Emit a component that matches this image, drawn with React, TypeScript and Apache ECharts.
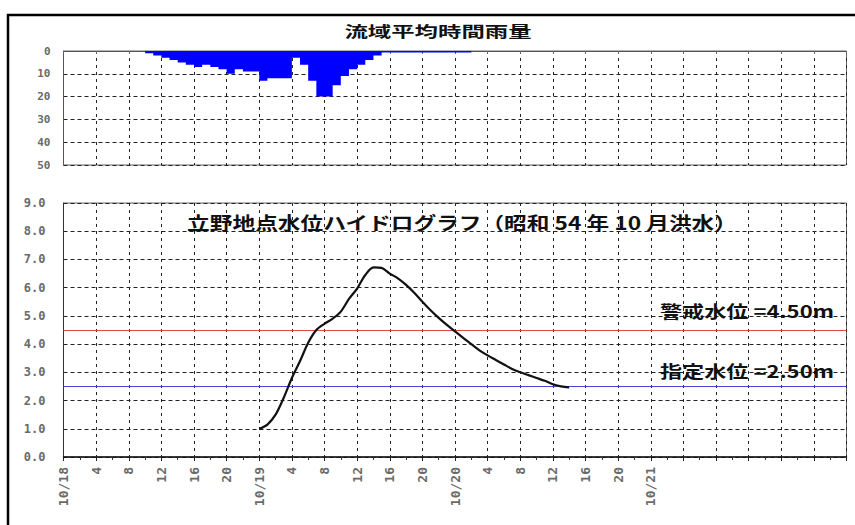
import React, { useEffect, useRef } from "react";
import * as echarts from "echarts";

// Hours measured from 10/18 0:00
const axisMaxHour = 96;
const tickStepHours = 4;
const lastLabelHour = 72;
const dateLabels = ["10/18", "10/19", "10/20", "10/21"];

// Basin average hourly rainfall (mm), starting at hour 10
const rainStartHour = 10;
const rainValues = [
  1, 2, 3, 4, 5, 6, 7, 6, 7, 8, 10, 8, 9, 9, 13, 12, 12, 12, 3, 6, 13, 20, 20, 15,
  11, 8, 6, 4, 2, 0.7, 0.7, 0.7, 0.7, 0.7, 0.7, 0.7, 0.7, 0.7, 0.7, 0.7,
];

// Water level at Tateno (m), hourly starting at hour 24 (10/19 0:00)
const levelStartHour = 24;
const levelValues = [
  1.0, 1.15, 1.5, 2.1, 2.8, 3.4, 4.05, 4.5, 4.72, 4.9, 5.15, 5.6, 5.97, 6.45, 6.72,
  6.7, 6.5, 6.33, 6.1, 5.82, 5.5, 5.2, 4.93, 4.68, 4.45, 4.22, 4.0, 3.78, 3.6, 3.44,
  3.28, 3.12, 3.0, 2.9, 2.8, 2.7, 2.58, 2.5, 2.47,
];

const warningLevel = 4.5;
const designatedLevel = 2.5;

const topTitle = "流域平均時間雨量";
const bottomTitle = "立野地点水位ハイドログラフ（昭和 54 年 10 月洪水）";
const warningLabel = "警戒水位 =4.50m";
const designatedLabel = "指定水位 =2.50m";

export default function App() {
  const ref = useRef<HTMLDivElement>(null);

  useEffect(() => {
    if (!ref.current) return;
    const chart = echarts.init(ref.current, null, { renderer: "svg" });

    const rainData: number[][] = rainValues.map((v, i) => [rainStartHour + i, v]);
    rainData.push([rainStartHour + rainValues.length, 0]);
    const levelData = levelValues.map((v, i) => [levelStartHour + i, v]);

    const gridColor = "#222";
    const labelFont = {
      fontFamily: "DejaVu Sans Mono",
      fontWeight: "bold" as const,
      color: "#6a6a6a",
    };

    const xFormatter = (val: number) => {
      if (val > lastLabelHour) return "";
      const h = val % 24;
      if (h === 0) return dateLabels[val / 24] ?? "";
      return String(h);
    };

    chart.setOption({
      animation: false,
      backgroundColor: "#fff",
      grid: [
        { left: 63.5, top: 51, width: 783, height: 114, show: true, borderColor: "#666", borderWidth: 1 },
        { left: 63.5, top: 203, width: 783, height: 254, show: true, borderColor: "#666", borderWidth: 1 },
      ],
      xAxis: [
        {
          type: "value",
          gridIndex: 0,
          min: 0,
          max: axisMaxHour,
          interval: tickStepHours,
          axisLine: { lineStyle: { color: "#555" } },
          axisTick: { show: true, length: 3, lineStyle: { color: "#666" } },
          axisLabel: { show: false },
          splitLine: { lineStyle: { color: gridColor, type: [3, 4], width: 1 } },
        },
        {
          type: "value",
          gridIndex: 1,
          min: 0,
          max: axisMaxHour,
          interval: tickStepHours,
          axisLine: { lineStyle: { color: "#111", width: 1.5 } },
          axisTick: { show: true, length: 4, lineStyle: { color: "#222" } },
          minorTick: { show: true, splitNumber: 2, length: 3, lineStyle: { color: "#333" } },
          axisLabel: {
            ...labelFont,
            fontSize: 13,
            rotate: 90,
            margin: 10,
            formatter: xFormatter,
          },
          splitLine: { lineStyle: { color: gridColor, type: [3, 4], width: 1 } },
        },
      ],
      yAxis: [
        {
          type: "value",
          gridIndex: 0,
          inverse: true,
          min: 0,
          max: 50,
          interval: 10,
          axisLine: { show: true, lineStyle: { color: "#555" } },
          axisTick: { show: false },
          axisLabel: { ...labelFont, fontSize: 11, margin: 13 },
          splitLine: { lineStyle: { color: gridColor, type: [4, 3], width: 1 } },
        },
        {
          type: "value",
          gridIndex: 1,
          min: 0,
          max: 9,
          interval: 1,
          axisLine: { show: true, lineStyle: { color: "#333" } },
          axisTick: { show: false },
          axisLabel: { ...labelFont, fontSize: 12, margin: 18, formatter: (v: number) => v.toFixed(1) },
          splitLine: { lineStyle: { color: gridColor, type: [4, 3], width: 1 } },
        },
      ],
      series: [
        {
          type: "line",
          xAxisIndex: 0,
          yAxisIndex: 0,
          step: "end",
          data: rainData,
          symbol: "none",
          lineStyle: { width: 0, color: "#0000ff" },
          areaStyle: { color: "#0000ff", opacity: 1 },
          z: 3,
        },
        {
          type: "line",
          xAxisIndex: 1,
          yAxisIndex: 1,
          data: levelData,
          smooth: 0.3,
          symbol: "none",
          lineStyle: { color: "#111", width: 2.2 },
          z: 5,
          markLine: {
            silent: true,
            symbol: "none",
            label: { show: false },
            data: [
              { yAxis: warningLevel, lineStyle: { color: "#e04848", width: 1.2, type: "solid" } },
              { yAxis: designatedLevel, lineStyle: { color: "#4848d8", width: 1.2, type: "solid" } },
            ],
          },
        },
      ],
      graphic: [
        {
          type: "rect",
          shape: { x: 8, y: 15, width: 1000, height: 1000 },
          style: { fill: "none", stroke: "#000", lineWidth: 2.5 },
          silent: true,
        },
        {
          type: "text",
          x: 438,
          y: 31,
          scaleX: 1.56,
          style: {
            text: topTitle,
            font: "bold 15px 'Noto Sans CJK JP'",
            fill: "#111",
            align: "center",
            verticalAlign: "middle",
          },
        },
        {
          type: "text",
          x: 462,
          y: 222,
          scaleX: 1.26,
          z: 10,
          style: {
            text: bottomTitle,
            font: "bold 18px 'Noto Sans CJK JP'",
            fill: "#111",
            align: "center",
            verticalAlign: "middle",
          },
        },
        {
          type: "text",
          x: 747,
          y: 311,
          scaleX: 1.3,
          z: 10,
          style: {
            text: warningLabel,
            font: "bold 17px 'Noto Sans CJK JP'",
            fill: "#111",
            align: "center",
            verticalAlign: "middle",
          },
        },
        {
          type: "text",
          x: 747,
          y: 371,
          scaleX: 1.3,
          z: 10,
          style: {
            text: designatedLabel,
            font: "bold 17px 'Noto Sans CJK JP'",
            fill: "#111",
            align: "center",
            verticalAlign: "middle",
          },
        },
      ],
    });

    return () => chart.dispose();
  }, []);

  return (
    <div
      ref={ref}
      style={{ position: "fixed", left: 0, top: 0, width: 855, height: 525, background: "#fff" }}
    />
  );
}
